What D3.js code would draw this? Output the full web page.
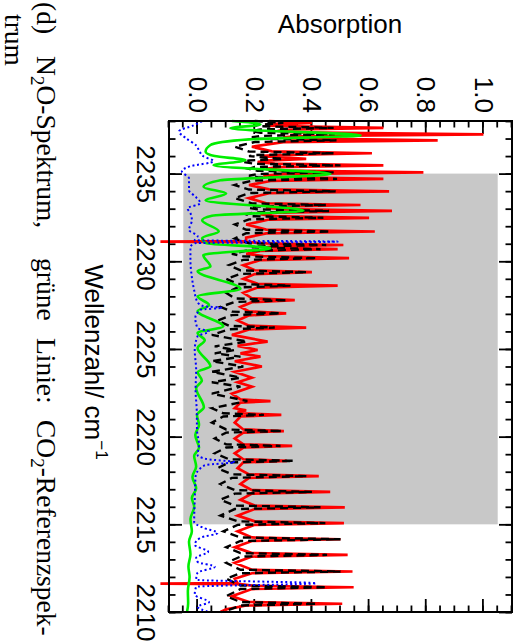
<!DOCTYPE html>
<html><head><meta charset="utf-8">
<script src="https://cdn.jsdelivr.net/npm/d3@7"></script>
<style>html,body{margin:0;padding:0;background:#fff} svg{display:block}</style>
</head><body>
<script>
// ---------- data (wavenumber cm^-1, absorption) ----------
const wavenumberTicks = [2235, 2230, 2225, 2220, 2215, 2210];
const absorptionTicks = [0.0, 0.2, 0.4, 0.6, 0.8, 1.0];
const highlightRange = [2235, 2215];
const xLabel = "Wellenzahl/ cm";
const yLabel = "Absorption";

const redSpectrum = [
 [2238.00,0.25],[2237.89,0.40],[2237.78,0.24],[2237.73,0.24],[2237.61,0.65],[2237.50,0.30],[2237.43,0.28],
 [2237.35,0.34],[2237.24,1.00],[2237.13,0.34],[2237.07,0.30],[2237.01,0.33],[2236.90,0.84],[2236.79,0.30],
 [2236.53,0.19],[2236.27,0.26],[2236.16,0.61],[2236.05,0.27],[2236.00,0.22],[2235.84,0.38],[2235.74,0.24],
 [2235.66,0.21],[2235.57,0.27],[2235.47,0.65],[2235.37,0.28],[2235.27,0.24],[2235.17,0.30],[2235.07,0.79],
 [2234.97,0.30],[2234.88,0.23],[2234.80,0.28],[2234.70,0.65],[2234.59,0.26],[2234.35,0.18],[2234.10,0.25],
 [2233.99,0.67],[2233.88,0.25],[2233.60,0.18],[2233.31,0.24],[2233.21,0.57],[2233.11,0.26],[2233.04,0.24],
 [2232.97,0.30],[2232.87,0.68],[2232.77,0.28],[2232.68,0.22],[2232.58,0.26],[2232.48,0.60],[2232.38,0.25],
 [2232.10,0.17],[2231.81,0.24],[2231.70,0.62],[2231.59,0.24],[2231.35,0.17],[2231.15,0.17],[2231.12,-0.13],
 [2231.09,0.18],[2231.02,0.24],[2230.93,0.51],[2230.84,0.26],[2230.80,0.24],[2230.69,0.49],[2230.59,0.22],
 [2230.43,0.17],[2230.29,0.23],[2230.18,0.53],[2230.07,0.22],[2229.78,0.16],[2229.49,0.20],[2229.38,0.40],
 [2229.27,0.20],[2229.00,0.16],[2228.72,0.21],[2228.61,0.49],[2228.50,0.21],[2228.20,0.16],[2227.89,0.19],
 [2227.78,0.34],[2227.67,0.19],[2227.40,0.15],[2227.14,0.18],[2227.03,0.31],[2226.92,0.18],[2226.62,0.14],
 [2226.33,0.18],[2226.22,0.38],[2226.11,0.18],[2225.80,0.12],[2225.42,0.245],[2225.18,0.14],[2224.94,0.21],
 [2224.75,0.15],[2224.56,0.22],[2224.30,0.13],[2224.00,0.225],[2223.70,0.13],[2223.36,0.19],[2223.10,0.14],
 [2222.85,0.19],[2222.45,0.12],[2222.12,0.15],[2222.03,0.255],[2221.94,0.15],[2221.62,0.13],[2221.50,0.17],
 [2221.42,0.14],[2221.33,0.16],[2221.24,0.293],[2221.15,0.15],[2220.80,0.13],[2220.41,0.16],[2220.32,0.302],
 [2220.23,0.16],[2219.90,0.13],[2219.56,0.16],[2219.47,0.331],[2219.38,0.16],[2219.05,0.13],[2218.71,0.16],
 [2218.62,0.313],[2218.53,0.16],[2218.20,0.14],[2217.85,0.18],[2217.75,0.424],[2217.65,0.18],[2217.30,0.15],
 [2216.95,0.19],[2216.85,0.464],[2216.75,0.19],[2216.40,0.15],[2216.07,0.20],[2215.97,0.515],[2215.87,0.20],
 [2215.50,0.14],[2215.17,0.20],[2215.07,0.512],[2214.97,0.20],[2214.60,0.14],[2214.25,0.19],[2214.15,0.50],
 [2214.05,0.19],[2213.70,0.13],[2213.36,0.19],[2213.26,0.525],[2213.16,0.19],[2212.80,0.13],[2212.41,0.19],
 [2212.31,0.542],[2212.21,0.19],[2211.90,0.13],[2211.65,0.14],[2211.62,-0.13],[2211.59,0.15],[2211.50,0.19],
 [2211.41,0.546],[2211.31,0.19],[2210.90,0.12],[2210.57,0.18],[2210.47,0.506],[2210.37,0.17],[2210.15,0.10],
 [2210.00,0.08]
];

const blackSimulation = [
 [2238.00,0.20],[2237.89,0.30],[2237.75,0.20],[2237.70,0.22],[2237.61,0.476],[2237.52,0.22],[2237.43,0.19],
 [2237.33,0.22],[2237.24,0.48],[2237.15,0.22],[2237.07,0.19],[2236.99,0.21],[2236.90,0.486],[2236.80,0.20],
 [2236.53,0.13],[2236.26,0.18],[2236.16,0.477],[2236.06,0.20],[2236.00,0.18],[2235.84,0.30],[2235.75,0.18],
 [2235.66,0.16],[2235.56,0.20],[2235.47,0.50],[2235.38,0.20],[2235.27,0.18],[2235.16,0.21],[2235.07,0.476],
 [2234.98,0.21],[2234.88,0.18],[2234.79,0.21],[2234.70,0.488],[2234.60,0.19],[2234.35,0.13],[2234.09,0.18],
 [2233.99,0.483],[2233.89,0.18],[2233.60,0.13],[2233.30,0.19],[2233.21,0.45],[2233.12,0.20],[2233.04,0.18],
 [2232.96,0.21],[2232.87,0.46],[2232.78,0.20],[2232.68,0.17],[2232.57,0.19],[2232.48,0.44],[2232.39,0.18],
 [2232.10,0.13],[2231.80,0.17],[2231.70,0.465],[2231.60,0.17],[2231.30,0.13],[2231.03,0.18],[2230.93,0.45],
 [2230.84,0.20],[2230.80,0.19],[2230.69,0.43],[2230.60,0.17],[2230.43,0.12],[2230.28,0.16],[2230.18,0.418],
 [2230.08,0.16],[2229.78,0.11],[2229.48,0.15],[2229.38,0.383],[2229.28,0.15],[2229.00,0.10],[2228.71,0.14],
 [2228.61,0.325],[2228.51,0.14],[2228.20,0.10],[2227.88,0.13],[2227.78,0.313],[2227.68,0.13],[2227.40,0.08],
 [2227.13,0.12],[2227.03,0.29],[2226.93,0.12],[2226.62,0.07],[2226.32,0.11],[2226.22,0.27],[2226.12,0.11],
 [2225.80,0.05],[2225.42,0.174],[2225.15,0.06],[2224.94,0.13],[2224.75,0.06],[2224.56,0.15],[2224.30,0.05],
 [2224.00,0.16],[2223.70,0.05],[2223.36,0.15],[2223.10,0.05],[2222.85,0.15],[2222.45,0.05],[2222.03,0.174],
 [2221.62,0.05],[2221.33,0.09],[2221.24,0.232],[2221.15,0.09],[2220.80,0.05],[2220.41,0.10],[2220.32,0.296],
 [2220.23,0.10],[2219.90,0.06],[2219.56,0.10],[2219.47,0.29],[2219.38,0.10],[2219.05,0.06],[2218.71,0.11],
 [2218.62,0.337],[2218.53,0.11],[2218.20,0.07],[2217.85,0.12],[2217.75,0.383],[2217.65,0.12],[2217.30,0.08],
 [2216.95,0.13],[2216.85,0.40],[2216.75,0.13],[2216.40,0.08],[2216.07,0.13],[2215.97,0.43],[2215.87,0.13],
 [2215.50,0.08],[2215.17,0.14],[2215.07,0.447],[2214.97,0.14],[2214.60,0.09],[2214.25,0.15],[2214.15,0.50],
 [2214.05,0.15],[2213.70,0.10],[2213.36,0.15],[2213.26,0.453],[2213.16,0.15],[2212.80,0.10],[2212.41,0.15],
 [2212.31,0.50],[2212.21,0.15],[2211.90,0.10],[2211.51,0.15],[2211.41,0.453],[2211.31,0.15],[2210.90,0.10],
 [2210.57,0.15],[2210.47,0.418],[2210.37,0.15],[2210.00,0.09]
];

const greenCO2 = [
 [2238.00,0.12],[2237.81,0.22],[2237.58,0.115],[2237.18,0.57],[2236.95,0.18],[2236.63,0.045],[2236.25,0.028],
 [2236.00,0.06],[2235.77,0.168],[2235.47,0.056],[2234.98,0.465],[2234.62,0.08],[2234.24,0.021],[2233.86,0.10],
 [2233.48,0.028],[2232.88,0.37],[2232.60,0.05],[2232.34,0.016],[2231.70,0.074],[2231.32,0.016],[2231.03,0.03],
 [2230.75,0.255],[2230.36,0.02],[2229.70,0.045],[2229.44,0.0],[2228.43,0.15],[2228.00,0.0],[2227.50,0.04],
 [2227.16,0.0],[2226.29,0.09],[2225.91,0.0],[2225.50,0.025],[2225.05,0.0],[2224.01,0.045],[2223.68,0.0],
 [2223.20,0.015],[2222.77,-0.005],[2221.67,0.022],[2221.24,-0.002],[2220.67,0.005],[2220.10,-0.008],
 [2219.36,0.005],[2218.90,-0.012],[2218.30,-0.005],[2217.70,-0.018],[2217.05,-0.005],[2216.50,-0.02],
 [2216.00,-0.012],[2215.30,-0.025],[2214.60,-0.02],[2214.00,-0.03],[2213.30,-0.025],[2212.60,-0.032],
 [2212.00,-0.028],[2211.20,-0.034],[2210.50,-0.033],[2210.00,-0.037]
];

const blueResidual = [
 [2237.98,0.015],[2237.75,-0.014],[2237.41,-0.065],[2237.01,-0.04],[2236.61,-0.005],[2236.33,0.005],
 [2235.99,0.02],[2235.70,0.056],[2235.42,-0.025],[2235.13,-0.055],[2234.73,-0.03],[2234.05,-0.03],
 [2233.65,-0.005],[2233.31,0.01],[2233.02,-0.035],[2232.74,-0.025],[2232.34,-0.02],[2231.79,-0.03],
 [2231.43,0.0],[2231.20,-0.01],[2231.12,0.49],[2231.03,-0.01],[2230.80,-0.025],[2230.06,-0.025],
 [2229.09,-0.02],[2228.35,-0.012],[2227.67,0.0],[2227.44,0.02],[2227.35,0.087],[2227.24,0.01],
 [2226.76,-0.008],[2226.19,0.0],[2225.99,0.04],[2225.73,0.0],[2224.94,-0.01],[2223.80,-0.005],
 [2222.66,-0.007],[2221.52,-0.003],[2220.38,-0.002],[2219.53,0.005],[2218.96,0.0],[2218.73,0.03],
 [2218.54,0.13],[2218.39,0.03],[2218.20,0.01],[2217.72,-0.007],[2216.39,-0.01],[2215.14,-0.012],
 [2214.80,0.02],[2214.51,0.07],[2214.23,0.01],[2213.83,-0.01],[2213.43,0.037],[2213.09,-0.005],
 [2212.86,0.0],[2212.58,0.06],[2212.24,0.0],[2211.84,-0.005],[2211.64,0.415],[2211.44,-0.005],
 [2210.99,-0.01],[2210.56,0.04],[2210.30,0.0],[2210.02,0.035]
];

// ---------- layout ----------
const W = 517, H = 644;
const plotW = 491, plotH = 343;   // drawn in the unrotated frame, then turned 90° clockwise
const sans = "'Liberation Sans', Arial, Helvetica, sans-serif";
const serif = "'Liberation Serif', 'Times New Roman', Times, serif";

const svg = d3.select("body").append("svg").attr("width", W).attr("height", H)
  .style("font-family", sans);

const g = svg.append("g").attr("transform", "translate(512,121) rotate(90)");

const x = d3.scaleLinear().domain([2238, 2210]).range([0, plotW]);
const y = d3.scaleLinear().domain([-0.1, 1.1]).range([plotH, 0]);

// highlight band
g.append("rect")
  .attr("x", x(highlightRange[0])).attr("width", x(highlightRange[1]) - x(highlightRange[0]))
  .attr("y", y(1.05)).attr("height", y(-0.05) - y(1.05))
  .attr("fill", "#c8c8c8");

// axes
const minorX = d3.range(2210, 2239, 1);
const minorY = d3.range(-0.1, 1.1001, 0.05);
function styleAxis(sel) {
  sel.select(".domain").remove();
  sel.selectAll(".tick line").attr("stroke", "#000").attr("stroke-width", 1.8);
  sel.selectAll("text").attr("font-family", sans).attr("font-size", 26).attr("fill", "#000");
}
g.append("g").attr("transform", `translate(0,${plotH})`)
  .call(d3.axisBottom(x).tickValues(minorX).tickSize(-6.5).tickFormat(""))
  .call(styleAxis);
g.append("g").attr("transform", `translate(0,${plotH})`)
  .call(d3.axisBottom(x).tickValues(wavenumberTicks).tickSize(-13).tickPadding(14).tickFormat(d3.format("d")))
  .call(styleAxis);
g.append("g")
  .call(d3.axisTop(x).tickValues(minorX).tickSize(-6.5).tickFormat(""))
  .call(styleAxis);
g.append("g")
  .call(d3.axisTop(x).tickValues(wavenumberTicks).tickSize(-13).tickFormat(""))
  .call(styleAxis);
g.append("g")
  .call(d3.axisLeft(y).tickValues(minorY).tickSize(-6.5).tickFormat(""))
  .call(styleAxis);
g.append("g")
  .call(d3.axisLeft(y).tickValues(absorptionTicks).tickSize(-13).tickPadding(8).tickFormat(d3.format(".1f")))
  .call(styleAxis);
g.append("g").attr("transform", `translate(${plotW},0)`)
  .call(d3.axisRight(y).tickValues(minorY).tickSize(-6.5).tickFormat(""))
  .call(styleAxis);
g.append("g").attr("transform", `translate(${plotW},0)`)
  .call(d3.axisRight(y).tickValues(absorptionTicks).tickSize(-13).tickFormat(""))
  .call(styleAxis);

// spectra
const sharp = d3.line().x(d => x(d[0])).y(d => y(d[1])).curve(d3.curveLinear);
const smooth = d3.line().x(d => x(d[0])).y(d => y(d[1])).curve(d3.curveMonotoneX);
g.append("path").datum(redSpectrum).attr("d", sharp)
  .attr("fill", "none").attr("stroke", "#ff0000").attr("stroke-width", 2.7).attr("stroke-linejoin", "miter");
g.append("path").datum(blackSimulation).attr("d", sharp)
  .attr("fill", "none").attr("stroke", "#000").attr("stroke-width", 2.4).attr("stroke-dasharray", "8,5");
g.append("path").datum(greenCO2).attr("d", smooth)
  .attr("fill", "none").attr("stroke", "#00ee00").attr("stroke-width", 2.6);
g.append("path").datum(blueResidual).attr("d", smooth)
  .attr("fill", "none").attr("stroke", "#0000ff").attr("stroke-width", 2).attr("stroke-dasharray", "2,2.6");

// frame
g.append("rect").attr("width", plotW).attr("height", plotH)
  .attr("fill", "none").attr("stroke", "#000").attr("stroke-width", 2);

// x-axis title (in rotated frame)
const xt = g.append("text").attr("x", 241).attr("y", 427).attr("text-anchor", "middle")
  .attr("font-size", 26).attr("font-family", sans);
xt.append("tspan").text(xLabel);
xt.append("tspan").attr("dy", -11).attr("font-size", 17).text("−1");

// y-axis title (appears horizontal)
svg.append("text").attr("x", 340).attr("y", 33).attr("text-anchor", "middle")
  .attr("font-size", 26).attr("font-family", sans).text(yLabel);

// caption, turned like the figure
function cap(xb, ys, build) {
  const t = svg.append("text").attr("transform", `translate(${xb},${ys}) rotate(90)`)
    .attr("font-family", serif).attr("font-size", 27.5);
  build(t);
}
cap(37, 2, t => t.text("(d)"));
cap(37, 56, t => { t.append("tspan").text("N"); t.append("tspan").attr("dy", 6).attr("font-size", 19).text("2");
  t.append("tspan").attr("dy", -6).text("O-Spektrum,"); });
cap(37, 258, t => t.text("grüne"));
cap(37, 338, t => t.text("Linie:"));
cap(37, 420, t => { t.append("tspan").text("CO"); t.append("tspan").attr("dy", 6).attr("font-size", 19).text("2");
  t.append("tspan").attr("dy", -6).text("-Referenzspek-"); });
cap(5, 14, t => t.text("trum"));
</script>
</body></html>
